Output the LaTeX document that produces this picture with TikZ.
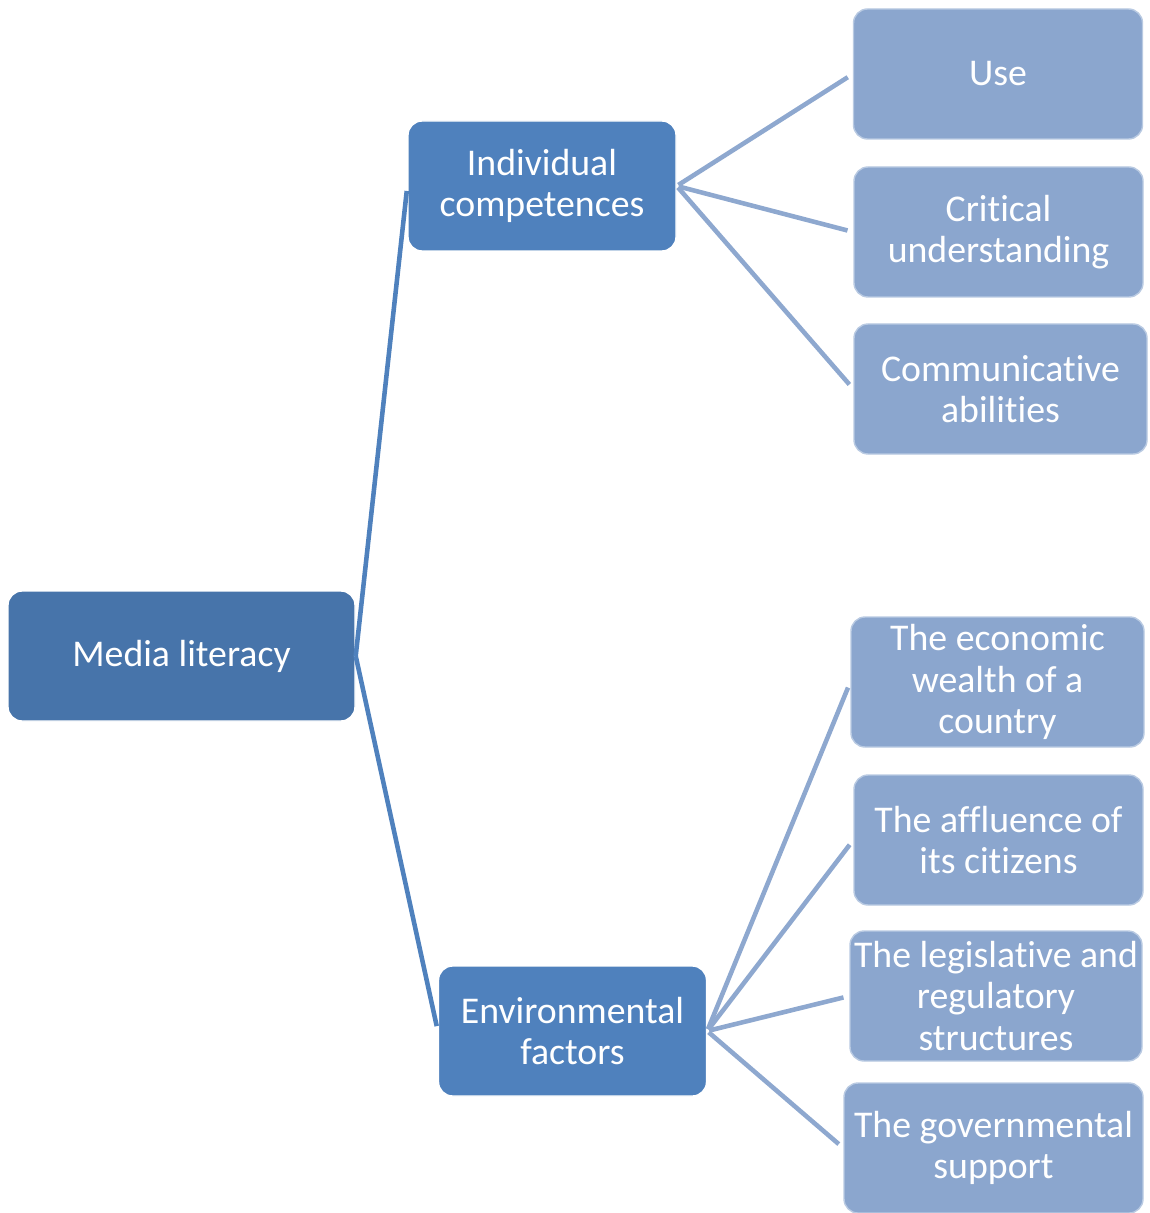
\documentclass[tikz,border=0pt]{standalone}
\usepackage{fontspec}
\setmainfont[RawFeature={-liga;-clig;-dlig;-calt}]{Carlito}
\usetikzlibrary{positioning}
\definecolor{RootBlue}{HTML}{4774AA}
\definecolor{MidBlue}{HTML}{4F81BD}
\definecolor{LeafBlue}{HTML}{8BA6CE}
\definecolor{LeafLine}{HTML}{8EA8CF}

\begin{document}
\begin{tikzpicture}[
    font=\fontsize{21.5}{23.5}\selectfont,
    box/.style={draw=white, rounded corners=8pt, line width=0.8pt, align=center, text=white, inner sep=2pt, minimum height=2.6cm},
    rootbox/.style={box, fill=RootBlue, minimum width=6.94cm},
    midbox/.style={box, fill=MidBlue, minimum width=5.36cm},
    leafbox/.style={box, fill=LeafBlue, draw=LeafBlue!60!white, minimum width=5.78cm},
    trunk/.style={draw=MidBlue, line width=2.6pt, shorten >=0.1cm},
    twig/.style={draw=LeafLine, line width=2.6pt, shorten <=0.04cm, shorten >=0.12cm}
]

  \useasboundingbox (0,0) rectangle (22.98,-24.26);

  % =========================================================================
  % RAIZ E RAMOS PRINCIPAIS
  % =========================================================================
  \node[rootbox] (n_root) at (3.63, -13.12) {Media literacy};

  \node[midbox] (n_indiv) at (10.84, -3.72) {Individual\\competences};
  \node[midbox] (n_env) at (11.45, -20.62) {Environmental\\factors};

  % =========================================================================
  % FOLHAS: COMPETENCIAS INDIVIDUAIS
  % =========================================================================
  \node[leafbox] (n_use) at (19.96, -1.48) {Use};
  \node[leafbox] (n_crit) at (19.97, -4.64) {Critical\\understanding};
  \node[leafbox, minimum width=5.86cm] (n_comm) at (20.01, -7.78) {Communicative\\abilities};

  % =========================================================================
  % FOLHAS: FATORES AMBIENTAIS
  % =========================================================================
  \node[leafbox, minimum width=5.86cm] (n_econ) at (19.95, -13.64) {The economic\\wealth of a\\country};
  \node[leafbox] (n_aff) at (19.97, -16.80) {The affluence of\\its citizens};
  \node[leafbox, minimum width=5.84cm] (n_legis) at (19.92, -19.92) {The legislative and\\regulatory\\structures};
  \node[leafbox, minimum width=5.98cm] (n_gov) at (19.87, -22.96) {The governmental\\support};

  % Ligacoes
  \draw[trunk] (n_root.east) -- (n_indiv.west);
  \draw[trunk] (n_root.east) -- (n_env.west);

  \foreach \leaf in {n_use, n_crit, n_comm}
    \draw[twig] (n_indiv.east) -- (\leaf.west);
  \foreach \leaf in {n_econ, n_aff, n_legis, n_gov}
    \draw[twig] (n_env.east) -- (\leaf.west);

\end{tikzpicture}
\end{document}
